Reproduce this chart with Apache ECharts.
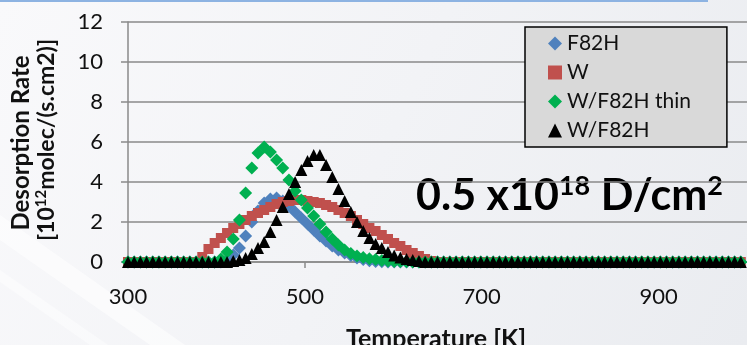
<!DOCTYPE html>
<html>
<head>
<meta charset="utf-8">
<script src="https://cdn.jsdelivr.net/npm/echarts@6/dist/echarts.min.js"></script>
<style>
html,body{margin:0;padding:0;background:#fff;}
#chart{width:747px;height:345px;}
</style>
</head>
<body>
<div id="chart"></div>
<script>
// Temperature [K] of each measured point
var temperature = [300,307,314,321,328,335,342,349,356,363,370,377,384,391,398,405,412,419,426,433,
  440,447,454,461,468,475,482,489,496,503,510,517,524,531,538,545,552,559,566,573,
  580,587,594,601,608,615,622,629,636,643,650,657,664,671,678,685,692,699,706,713,
  720,727,734,741,748,755,762,769,776,783,790,797,804,811,818,825,832,839,846,853,
  860,867,874,881,888,895,902,909,916,923,930,937,944,951,958,965,972,979,986,993];

// Desorption rate [10^12 molec/(s.cm2)]
var rateF82H = [0,0,0,0,0,0,0,0,0,0,0,0,0,0,0,0,0.1,0.35,0.7,1.3,
  2.0,2.55,2.95,3.15,3.2,3.05,2.8,2.5,2.2,1.9,1.6,1.3,1.05,0.8,0.6,0.45,0.32,0.2,0.12,0.06,
  0.03,0.01,0,0,0,0,0,0,0,0,0,0,0,0,0,0,0,0,0,0,
  0,0,0,0,0,0,0,0,0,0,0,0,0,0,0,0,0,0,0,0,
  0,0,0,0,0,0,0,0,0,0,0,0,0,0,0,0,0,0,0,0];

var rateW = [0,0,0,0,0,0,0,0,0,0,0,0,0.25,0.65,0.95,1.2,1.45,1.7,1.9,2.1,
  2.3,2.45,2.6,2.75,2.9,3.0,3.05,3.1,3.1,3.05,3.0,2.95,2.85,2.75,2.6,2.45,2.3,2.1,1.9,1.7,
  1.55,1.35,1.15,0.95,0.8,0.6,0.45,0.3,0.15,0.05,0,0,0,0,0,0,0,0,0,0,
  0,0,0,0,0,0,0,0,0,0,0,0,0,0,0,0,0,0,0,0,
  0,0,0,0,0,0,0,0,0,0,0,0,0,0,0,0,0,0,0,0];

var rateWF82Hthin = [0,0,0,0,0,0,0,0,0,0,0,0,0,0,0,0.15,0.5,1.15,2.1,3.45,
  4.7,5.45,5.75,5.5,5.1,4.7,4.1,3.55,3.1,2.7,2.3,1.9,1.5,1.15,0.85,0.6,0.42,0.3,0.22,0.16,
  0.12,0.08,0.05,0.03,0.02,0.01,0,0,0,0,0,0,0,0,0,0,0,0,0,0,
  0,0,0,0,0,0,0,0,0,0,0,0,0,0,0,0,0,0,0,0,
  0,0,0,0,0,0,0,0,0,0,0,0,0,0,0,0,0,0,0,0];

var rateWF82H = [0,0,0,0,0,0,0,0,0,0,0,0,0,0,0,0,0,0.05,0.1,0.2,
  0.4,0.7,1.0,1.5,2.1,2.75,3.4,4.0,4.6,5.05,5.35,5.35,4.85,4.25,3.65,3.05,2.5,2.0,1.55,1.2,
  0.9,0.7,0.5,0.33,0.22,0.15,0.1,0.05,0,0,0,0,0,0,0,0,0,0,0,0,
  0,0,0,0,0,0,0,0,0,0,0,0,0,0,0,0,0,0,0,0,
  0,0,0,0,0,0,0,0,0,0,0,0,0,0,0,0,0,0,0,0];

var seriesNames = ['F82H', 'W', 'W/F82H thin', 'W/F82H'];
var xTicks = {min: 300, max: 1000, interval: 200};
var yTicks = {min: 0, max: 12, interval: 2};

function pairs(vals) {
  return temperature.map(function (t, i) { return [t, vals[i]]; });
}

var FONT = 'Lato, "Open Sans", sans-serif';
var chart = echarts.init(document.getElementById('chart'), null, {renderer: 'canvas'});
var option = {
  animation: false,
  backgroundColor: {
    type: 'linear', x: 0, y: 0, x2: 1, y2: 1,
    colorStops: [{offset: 0, color: '#f9f9fb'}, {offset: 0.5, color: '#f2f3f6'}, {offset: 1, color: '#eaecf0'}]
  },
  grid: {left: 128, right: 0, top: 22, bottom: 83, containLabel: false},
  legend: {
    orient: 'vertical', left: 525, top: 27,
    padding: [6, 36, 6, 23],
    backgroundColor: '#d9d9d9', borderColor: '#000', borderWidth: 1.5, borderRadius: 0,
    itemWidth: 14, itemHeight: 14, itemGap: 8,
    textStyle: {fontFamily: FONT, fontSize: 21, color: '#111', lineHeight: 20},
    data: seriesNames
  },
  xAxis: {
    type: 'value', min: xTicks.min, max: xTicks.max, interval: xTicks.interval,
    axisLine: {show: true, lineStyle: {color: '#8a8a8a', width: 1.5}},
    axisTick: {show: true, length: 6, lineStyle: {color: '#8a8a8a', width: 1.5}},
    splitLine: {show: false},
    axisLabel: {fontFamily: FONT, fontSize: 22, color: '#111', margin: 24, showMaxLabel: false}
  },
  yAxis: {
    type: 'value', min: yTicks.min, max: yTicks.max, interval: yTicks.interval,
    axisLine: {show: true, lineStyle: {color: '#8a8a8a', width: 1.5}},
    axisTick: {show: true, length: 7, lineStyle: {color: '#8a8a8a', width: 1.5}},
    splitLine: {show: true, lineStyle: {color: '#8a8a8a', width: 1.5}},
    axisLabel: {fontFamily: FONT, fontSize: 22, color: '#111', margin: 25}
  },
  series: [
    {name: seriesNames[0], type: 'scatter', symbol: 'diamond', symbolSize: 13,
     itemStyle: {color: '#4f81bd', opacity: 1}, data: pairs(rateF82H)},
    {name: seriesNames[1], type: 'scatter', symbol: 'rect', symbolSize: 10,
     itemStyle: {color: '#c0504d', opacity: 1}, data: pairs(rateW)},
    {name: seriesNames[2], type: 'scatter', symbol: 'diamond', symbolSize: 13,
     itemStyle: {color: '#00b050', opacity: 1}, data: pairs(rateWF82Hthin)},
    {name: seriesNames[3], type: 'scatter', symbol: 'triangle', symbolSize: [12, 12],
     itemStyle: {color: '#000', opacity: 1}, data: pairs(rateWF82H)}
  ],
  graphic: [
    {type: 'polygon', z: -10, silent: true,
     shape: {points: [[0, 215], [0, 240], [150, 345], [185, 345]]},
     style: {fill: 'rgba(255,255,255,0.55)'}},
    {type: 'polygon', z: -10, silent: true,
     shape: {points: [[0, 270], [0, 282], [90, 345], [108, 345]]},
     style: {fill: 'rgba(255,255,255,0.45)'}},
    {type: 'rect', left: 0, top: 0, shape: {width: 708, height: 2}, style: {fill: '#8db3e2'}, z: 100},
    {type: 'text', x: 21, y: 143, rotation: Math.PI / 2,
     style: {text: 'Desorption Rate', font: 'bold 24px ' + FONT, fill: '#111', align: 'center', verticalAlign: 'middle'}},
    {type: 'text', x: 47, y: 140, rotation: Math.PI / 2,
     style: {text: '{n|[10}{s|12}{n|molec/(s.cm2)]}', align: 'center', verticalAlign: 'middle',
       rich: {
         n: {fontFamily: FONT, fontSize: 23, fontWeight: 'bold', fill: '#111', lineHeight: 26},
         s: {fontFamily: FONT, fontSize: 15, fontWeight: 'bold', fill: '#111', lineHeight: 26, verticalAlign: 'top'}
       }}},
    {type: 'text', x: 436, y: 339,
     style: {text: 'Temperature [K]', font: 'bold 25px ' + FONT, fill: '#111', align: 'center', verticalAlign: 'middle'}},
    {type: 'text', x: 416, y: 196,
     style: {text: '{b|0.5 x10}{s|18}{b| D/cm}{s|2}', align: 'left', verticalAlign: 'middle',
       rich: {
         b: {fontFamily: FONT, fontSize: 43, fontWeight: 'bold', fill: '#000', lineHeight: 46},
         s: {fontFamily: FONT, fontSize: 27, fontWeight: 'bold', fill: '#000', lineHeight: 46, verticalAlign: 'top'}
       }}}
  ]
};
chart.setOption(option);
</script>
</body>
</html>
